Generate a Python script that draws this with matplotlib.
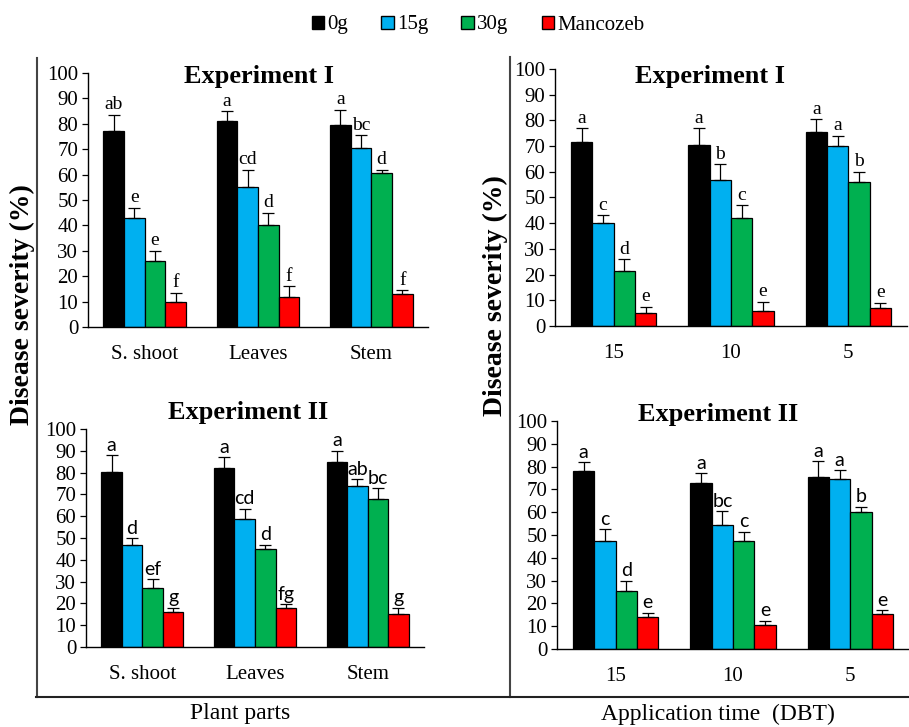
import numpy as np
import matplotlib.pyplot as plt
from matplotlib.patches import Patch
from matplotlib.lines import Line2D

plt.rcParams['font.family'] = ['Liberation Serif', 'DejaVu Serif']

# ── data ──────────────────────────────────────────────────────────────────────
treatments = ['0g', '15g', '30g', 'Mancozeb']
colors = ['#000000', '#00B0F0', '#00B050', '#FF0000']

parts = ['S. shoot', 'Leaves', 'Stem']
times = ['15', '10', '5']

# plant parts, experiment I  (rows = treatments, cols = categories)
pp1_mean = [[77, 81, 79.5], [43, 55, 70.5], [26, 40, 60.5], [10, 12, 13]]
pp1_err = [[6.5, 4, 6], [4, 7, 5], [4, 5, 1.5], [3.5, 4, 1.5]]
pp1_let = [['ab', 'a', 'a'], ['e', 'cd', 'bc'], ['e', 'd', 'd'], ['f', 'f', 'f']]

# plant parts, experiment II
pp2_mean = [[80.5, 82, 85], [47, 58.5, 74], [27, 45, 68], [16, 18, 15]]
pp2_err = [[7.5, 5, 5], [3, 5, 3], [4, 2, 5], [2, 1.5, 3]]
pp2_let = [['a', 'a', 'a'], ['d', 'cd', 'ab'], ['ef', 'd', 'bc'], ['g', 'fg', 'g']]

# application time, experiment I
at1_mean = [[71.5, 70.5, 75.5], [40, 57, 70], [21.5, 42, 56], [5, 6, 7]]
at1_err = [[5.5, 6.5, 5], [3, 6, 4], [4.5, 5, 4], [2.5, 3.5, 2]]
at1_let = [['a', 'a', 'a'], ['c', 'b', 'a'], ['d', 'c', 'b'], ['e', 'e', 'e']]

# application time, experiment II
at2_mean = [[78, 73, 75.5], [47.5, 54.5, 74.5], [25.5, 47.5, 60], [14, 10.5, 15.5]]
at2_err = [[4, 4, 7], [5, 6, 4], [4.5, 4, 2.5], [2, 2, 1.5]]
at2_let = [['a', 'a', 'a'], ['c', 'bc', 'a'], ['d', 'c', 'b'], ['e', 'e', 'e']]

W, H = 909, 727
fig = plt.figure(figsize=(W / 100, H / 100), dpi=100)

def px_axes(l, r, b, t):
    return fig.add_axes([l / W, 1 - b / H, (r - l) / W, (b - t) / H])

def panel(ax, cats, means, errs, letters, title, title_xy, letter_font):
    x = np.arange(len(cats))
    w = 0.182
    for i in range(len(treatments)):
        xi = x + (i - 1.5) * w
        ax.bar(xi, means[i], w, color=colors[i], edgecolor='black', lw=0.9,
               zorder=2)
        ax.errorbar(xi, means[i], yerr=[np.zeros(3), errs[i]], fmt='none',
                    ecolor='black', elinewidth=0.9, capsize=4, capthick=0.9,
                    zorder=3)
        for xx, m, e, lab in zip(xi, means[i], errs[i], letters[i]):
            ax.text(xx, m + e + 0.6, lab, ha='center', va='bottom',
                    fontsize=14, family=letter_font)
    ax.set_xlim(-0.5, 2.5)
    ax.set_ylim(0, 100)
    ax.set_yticks(range(0, 101, 10))
    ax.set_xticks(x)
    ax.set_xticklabels(cats, fontsize=15)
    ax.tick_params(axis='x', length=0, pad=13)
    ax.tick_params(axis='y', labelsize=15, length=4, width=0.9, pad=3)
    for s in ['top', 'right']:
        ax.spines[s].set_visible(False)
    for s in ['left', 'bottom']:
        ax.spines[s].set_linewidth(1.0)
    fig.text(title_xy[0] / W, 1 - title_xy[1] / H, title, ha='center',
             va='center', fontsize=19, fontweight='bold')

ax1 = px_axes(88, 428, 327, 73)
panel(ax1, parts, pp1_mean, pp1_err, pp1_let, 'Experiment I', (259, 77),
      ['Liberation Serif'])
ax2 = px_axes(555, 907, 326, 69)
panel(ax2, times, at1_mean, at1_err, at1_let, 'Experiment I', (710, 77),
      ['Liberation Serif'])
ax3 = px_axes(86, 424, 647, 429)
panel(ax3, parts, pp2_mean, pp2_err, pp2_let, 'Experiment II', (248, 413),
      ['Lato', 'DejaVu Sans'])
ax4 = px_axes(557, 909, 649, 421)
panel(ax4, times, at2_mean, at2_err, at2_let, 'Experiment II', (718, 415),
      ['Lato', 'DejaVu Sans'])

# frame lines
lc = '#444444'
fig.add_artist(Line2D([36.5 / W, 36.5 / W], [1 - 58 / H, 1 - 697 / H],
                      color=lc, lw=1.5))
fig.add_artist(Line2D([510 / W, 510 / W], [1 - 57 / H, 1 - 697 / H],
                      color=lc, lw=1.5))
fig.add_artist(Line2D([36 / W, 1.0], [1 - 697 / H, 1 - 697 / H],
                      color='#222222', lw=1.5))

# axis labels
fig.text(22 / W, 1 - 305 / H, 'Disease severity (%)', rotation=90,
         ha='center', va='center', fontsize=20, fontweight='bold')
fig.text(495 / W, 1 - 296 / H, 'Disease severity (%)', rotation=90,
         ha='center', va='center', fontsize=20, fontweight='bold')
fig.text(240 / W, 1 - 714 / H, 'Plant parts', ha='center', va='center',
         fontsize=17)
fig.text(718 / W, 1 - 714 / H, 'Application time  (DBT)', ha='center',
         va='center', fontsize=17)

# legend
handles = [Patch(facecolor=c, edgecolor='black', lw=1) for c in colors]
fig.legend(handles, treatments, loc='center', bbox_to_anchor=(478 / W, 1 - 25 / H),
           ncol=4, frameon=False, fontsize=15, handlelength=0.6,
           handleheight=0.6, handletextpad=0.15, columnspacing=1.6)

fig.savefig('out.png', dpi=100)
plt.close()
